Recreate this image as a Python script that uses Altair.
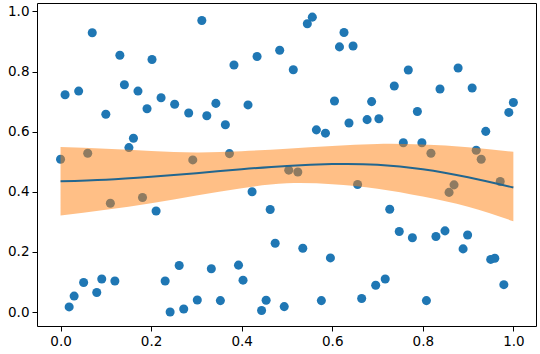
import altair as alt
import pandas as pd

# Scatter points
px = [0.000, 0.010, 0.040, 0.070, 0.060, 0.100, 0.131, 0.141, 0.171, 0.161,
      0.151, 0.202, 0.191, 0.222, 0.252, 0.283, 0.292, 0.312, 0.383, 0.434,
      0.484, 0.514, 0.545, 0.556, 0.626, 0.616, 0.646, 0.323, 0.343, 0.364,
      0.414, 0.605, 0.687, 0.565, 0.585, 0.637, 0.677, 0.703, 0.373, 0.504,
      0.524, 0.768, 0.878, 0.737, 0.838, 0.909, 0.788, 1.000, 0.990, 0.939,
      0.757, 0.798, 0.818, 0.918, 0.929, 0.110, 0.181, 0.211, 0.019, 0.030,
      0.051, 0.080, 0.091, 0.120, 0.231, 0.262, 0.242, 0.272, 0.302, 0.423,
      0.463, 0.474, 0.535, 0.596, 0.656, 0.333, 0.393, 0.403, 0.353, 0.444,
      0.454, 0.494, 0.576, 0.665, 0.696, 0.727, 0.748, 0.777, 0.829, 0.849,
      0.899, 0.889, 0.950, 0.959, 0.979, 0.717, 0.808, 0.869, 0.858, 0.971]
py = [0.508, 0.723, 0.735, 0.929, 0.528, 0.658, 0.854, 0.756, 0.735, 0.578,
      0.547, 0.840, 0.676, 0.713, 0.691, 0.662, 0.506, 0.970, 0.822, 0.850,
      0.871, 0.806, 0.959, 0.981, 0.930, 0.882, 0.885, 0.653, 0.694, 0.623,
      0.689, 0.702, 0.700, 0.606, 0.595, 0.629, 0.640, 0.643, 0.527, 0.472,
      0.466, 0.805, 0.812, 0.752, 0.742, 0.745, 0.667, 0.697, 0.664, 0.601,
      0.563, 0.563, 0.528, 0.538, 0.508, 0.362, 0.381, 0.336, 0.017, 0.053,
      0.098, 0.065, 0.110, 0.103, 0.103, 0.155, 0.000, 0.010, 0.040, 0.400,
      0.341, 0.229, 0.212, 0.180, 0.424, 0.144, 0.156, 0.106, 0.038, 0.005,
      0.039, 0.018, 0.038, 0.045, 0.089, 0.342, 0.268, 0.247, 0.251, 0.270,
      0.256, 0.210, 0.175, 0.179, 0.091, 0.110, 0.038, 0.423, 0.398, 0.434]

# Fitted curve and confidence band
fx = [0.0, 0.1, 0.2, 0.3, 0.4, 0.5, 0.6, 0.7, 0.8, 0.9, 1.0]
fy = [0.435, 0.440, 0.450, 0.462, 0.475, 0.486, 0.492, 0.490, 0.475, 0.448, 0.414]
fup = [0.549, 0.543, 0.536, 0.531, 0.535, 0.543, 0.552, 0.559, 0.557, 0.548, 0.533]
flo = [0.321, 0.340, 0.362, 0.388, 0.412, 0.428, 0.425, 0.410, 0.384, 0.350, 0.302]

ticks = [0.0, 0.2, 0.4, 0.6, 0.8, 1.0]

pts = pd.DataFrame({"x": px, "y": py})
fit = pd.DataFrame({"x": fx, "y": fy, "lo": flo, "hi": fup})

xs = alt.Scale(domain=[-0.052, 1.050], nice=False, zero=False)
ys = alt.Scale(domain=[-0.0465, 1.028], nice=False, zero=False)
xax = alt.Axis(values=ticks, format=".1f", title=None)
yax = alt.Axis(values=ticks, format=".1f", title=None)

points = alt.Chart(pts).mark_circle(size=82, opacity=1, color="#1f77b4").encode(
    x=alt.X("x:Q", scale=xs, axis=xax),
    y=alt.Y("y:Q", scale=ys, axis=yax),
)

band = alt.Chart(fit).mark_area(color="#ff7f0e", opacity=0.5, interpolate="natural").encode(
    x=alt.X("x:Q", scale=xs),
    y=alt.Y("lo:Q", scale=ys),
    y2="hi:Q",
)

line = alt.Chart(fit).mark_line(color="#22668f", strokeWidth=2, interpolate="natural").encode(
    x=alt.X("x:Q", scale=xs),
    y=alt.Y("y:Q", scale=ys),
)

chart = alt.layer(points, band, line).properties(
    width=499,
    height=323,
    padding={"left": 37, "top": 3, "right": 4, "bottom": 28},
    autosize=alt.AutoSizeParams(type="none"),
).configure_view(
    stroke="black", strokeWidth=1
).configure_axis(
    grid=False,
    domain=False,
    tickColor="black",
    tickSize=5,
    tickWidth=1,
    labelColor="black",
    labelFont="DejaVu Sans",
    labelFontSize=13.5,
    labelPadding=3,
    labelFlush=False,
)

chart.save("out.html", embed_options={"renderer": "svg", "actions": False})
